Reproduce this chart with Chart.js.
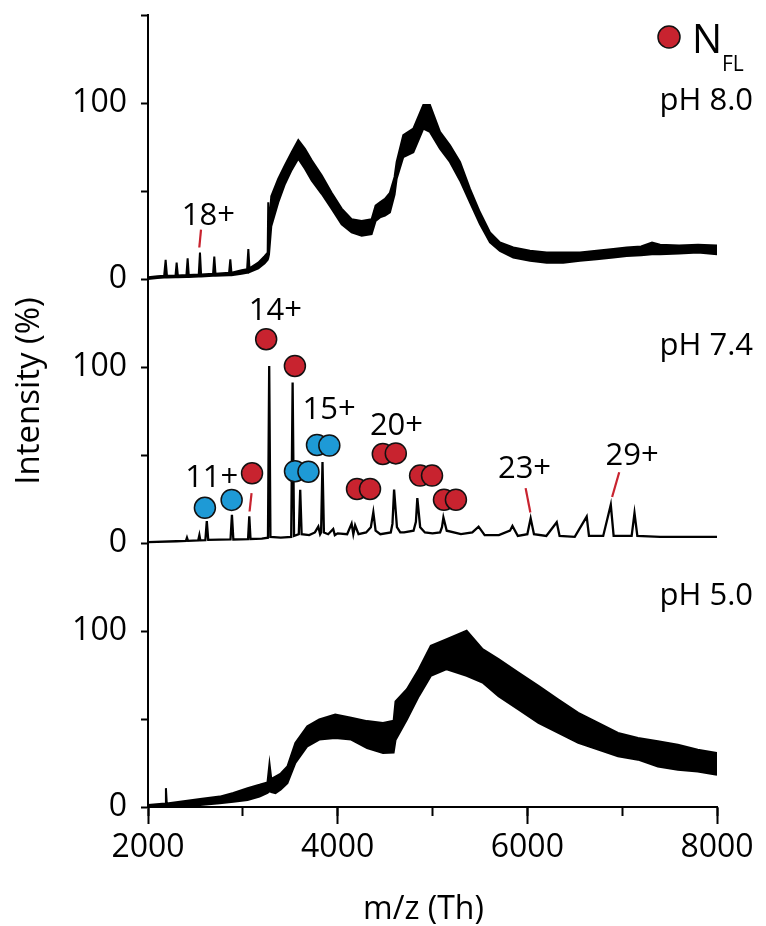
<!DOCTYPE html>
<html>
<head>
<meta charset="utf-8">
<script src="https://cdn.jsdelivr.net/npm/chart.js@4.4.1/dist/chart.umd.min.js"></script>
<style>
  html, body { margin: 0; padding: 0; background: #fff; }
</style>
</head>
<body>
<canvas id="myChart" width="766" height="926"></canvas>
<script>
// pH 8.0 : noisy band, upper and lower edge (% intensity)
const mz80 = [2000,2100,2170,2186,2200,2290,2302,2315,2405,2418,2430,2535,2548,2560,2686,2699,2712,2855,2868,2880,2987,3045,3058,3070,3163,3230,3262,3268,3276,3300,3374,3444,3515,3585,3655,3726,3831,3936,4042,4147,4253,4358,4400,4446,4499,4551,4600,4622,4692,4798,4903,4973,5079,5184,5290,5395,5500,5606,5711,5852,6028,6204,6379,6555,6731,6907,7047,7200,7315,7400,7600,7800,8000];
const up80 = [1.0,1.5,1.8,10.9,1.9,2.0,9.3,2.0,2.3,11.8,2.3,2.6,15.0,2.6,3.0,12.8,3.0,3.6,11.2,3.6,5.0,5.5,17.0,6.0,9.3,13.0,15.0,43.6,30.0,47.0,57.0,64.6,72.0,78.9,74.0,67.4,58.9,49.0,40.0,34.0,33.0,34.0,41.7,43.6,45.5,49.0,58.0,66.5,81.7,85.5,98.9,98.9,83.6,76.0,66.5,51.2,37.9,26.5,20.8,17.9,16.0,15.0,15.0,15.0,16.0,17.0,17.9,18.5,20.7,19.5,19.0,19.5,19.0];
const lo80 = [0.0,0.5,0.8,0.8,0.9,1.0,1.0,1.0,1.2,1.2,1.2,1.4,1.4,1.4,1.8,1.8,1.8,2.2,2.2,2.2,3.0,3.5,3.5,4.0,6.0,9.0,11.0,12.0,14.0,30.0,43.6,54.0,62.0,68.4,62.7,56.0,48.4,40.0,31.0,26.5,24.6,25.5,33.0,35.0,36.0,37.9,48.0,57.0,69.3,72.0,85.5,83.6,74.0,66.5,56.0,43.6,31.2,20.8,16.0,12.2,10.3,9.3,9.3,10.3,11.2,12.2,13.1,13.5,14.0,14.0,14.5,15.0,14.0];

// pH 7.4 : sharp peaks
const mz74 = [2000,2300,2400,2411,2422,2530,2542,2552,2605,2620,2635,2870,2885,2900,3055,3068,3081,3200,3265,3278,3291,3400,3510,3525,3540,3590,3605,3620,3700,3760,3796,3815,3825,3840,3855,3900,3953,3970,4000,4100,4147,4165,4184,4220,4300,4350,4376,4400,4450,4560,4578,4595,4625,4660,4700,4800,4825,4840,4870,4920,5000,5080,5100,5115,5150,5300,5420,5486,5550,5700,5817,5843,5900,6000,6035,6070,6200,6310,6340,6500,6626,6650,6800,6880,6910,7100,7130,7160,7400,7700,8000];
const int74 = [0.5,1.0,1.2,3.0,1.2,1.5,4.5,1.5,1.6,12.5,1.8,2.0,16.0,2.0,2.2,15.2,2.3,2.5,3.0,100.5,3.5,3.0,3.5,91.2,4.0,5.0,30.3,5.0,4.5,6.0,9.3,5.0,6.0,46.0,6.0,5.0,8.0,4.5,5.5,5.0,11.0,5.0,10.0,5.0,6.0,9.0,17.5,7.0,5.0,6.0,11.0,30.3,9.0,6.0,6.0,7.0,12.0,25.5,9.0,6.0,5.5,6.0,9.0,14.5,7.0,5.0,6.0,9.3,4.5,4.5,7.0,9.7,4.0,5.0,14.0,5.0,4.0,11.8,4.0,3.5,15.0,4.0,4.0,21.7,4.0,4.0,17.0,4.0,3.5,3.5,3.5];

// pH 5.0 : noisy band
const mz50 = [2000,2180,2189,2198,2336,2550,2756,2900,3050,3176,3260,3281,3300,3344,3400,3470,3554,3680,3806,3974,4142,4310,4478,4590,4610,4730,4856,4982,5150,5360,5528,5696,5906,6117,6327,6537,6747,6956,7167,7377,7587,7797,8000];
const up50 = [1.1,2.0,10.7,2.0,3.0,4.5,5.9,8.0,10.7,12.6,14.0,24.6,16.0,17.3,19.0,23.0,36.4,45.9,49.7,52.6,50.7,48.8,47.8,49.0,60.0,66.9,78.3,91.6,95.4,100.2,89.7,84.0,76.4,68.8,61.1,53.5,47.8,42.1,39.2,37.3,35.4,32.6,30.7];
const lo50 = [0.2,0.4,0.4,0.5,0.6,1.2,2.1,3.0,4.0,5.9,8.0,9.0,8.5,7.8,10.0,13.5,25.0,34.5,38.3,39.2,38.3,33.5,30.7,31.0,38.0,49.7,63.0,74.5,78.3,74.5,70.7,63.0,55.4,47.8,42.1,36.4,32.6,28.8,26.9,23.0,21.1,20.2,18.3];

// circle markers on the pH 7.4 trace
const blueMz = [2600,2882,3550,3692,3782,3912];
const blueInt = [20.0,24.5,40.8,40.5,55.7,55.4];
const redMz = [3097,3246,3549,4204,4341,4476,4613,4869,4995,5121,5247];
const redInt = [39.6,115.8,100.6,30.7,30.7,50.6,50.9,38.3,38.3,24.6,24.6];

// small red guide lines under charge labels
const guideMz = [[2559,2541],[3092,3071],[5982,6032],[6969,6894]];
const guideInt = [[28.0,17.9],[28.4,17.9],[31.2,17.3],[40.2,26.1]];
const guidePanel = [0,1,1,1];

// charge state labels (text baseline, in panel %)
const chargeText = ['18+','14+','11+','15+','20+','23+','29+'];
const chargeMz = [2637,3344,2672,3910,4620,5970,7104];
const chargeInt = [30.7,126.7,31.8,70.5,61.4,37.0,44.3];
const chargePanel = [0,1,1,1,1,1,1];

const phText = ['pH 8.0','pH 7.4','pH 5.0'];
const phInt = [96.0,106.8,114.8];

// panel offsets on the stacked y axis (top, middle, bottom)
const panelOffset = [300, 150, 0];
const xTicks = [2000, 4000, 6000, 8000];

const RED = '#c8232f';
const BLUE = '#1e9ad6';
const FONT = "'Open Sans', sans-serif";

function pts(xs, ys, off) {
  return xs.map((x, i) => ({ x: x, y: ys[i] + off }));
}

const lineBase = {
  type: 'line',
  borderColor: '#000',
  borderWidth: 2,
  pointRadius: 0,
  tension: 0,
  xAxisID: 'x',
  yAxisID: 'y',
  order: 3,
};

const datasets = [
  { ...lineBase, data: pts(mz80, up80, panelOffset[0]), fill: '+1', backgroundColor: '#000' },
  { ...lineBase, data: pts(mz80, lo80, panelOffset[0]), fill: false },
  { ...lineBase, data: pts(mz74, int74, panelOffset[1]), fill: false, borderWidth: 2.3 },
  { ...lineBase, data: pts(mz50, up50, panelOffset[2]), fill: '+1', backgroundColor: '#000' },
  { ...lineBase, data: pts(mz50, lo50, panelOffset[2]), fill: false },
];

guideMz.forEach((xs, i) => {
  datasets.push({
    ...lineBase,
    data: pts(xs, guideInt[i], panelOffset[guidePanel[i]]),
    borderColor: RED,
    borderWidth: 2.2,
    fill: false,
    order: 2,
  });
});

datasets.push({
  type: 'scatter',
  data: pts(blueMz, blueInt, panelOffset[1]),
  pointRadius: 10.5,
  pointHoverRadius: 10.5,
  pointBackgroundColor: BLUE,
  pointBorderColor: '#111',
  pointBorderWidth: 1.5,
  xAxisID: 'x',
  yAxisID: 'y',
  order: 1,
});
datasets.push({
  type: 'scatter',
  data: pts(redMz, redInt, panelOffset[1]),
  pointRadius: 10.5,
  pointHoverRadius: 10.5,
  pointBackgroundColor: RED,
  pointBorderColor: '#111',
  pointBorderWidth: 1.5,
  xAxisID: 'x',
  yAxisID: 'y',
  order: 1,
});

// text labels, axis titles and legend
const textPlugin = {
  id: 'texts',
  afterDatasetsDraw(chart) {
    const ctx = chart.ctx;
    const xs = chart.scales.x;
    const ys = chart.scales.y;
    const area = chart.chartArea;
    ctx.save();
    ctx.fillStyle = '#000';
    ctx.textBaseline = 'alphabetic';

    ctx.font = '31px ' + FONT;
    ctx.textAlign = 'center';
    chargeText.forEach((t, i) => {
      ctx.fillText(t, xs.getPixelForValue(chargeMz[i]),
        ys.getPixelForValue(chargeInt[i] + panelOffset[chargePanel[i]]));
    });

    ctx.textAlign = 'right';
    phText.forEach((t, i) => {
      ctx.fillText(t, area.right + 36, ys.getPixelForValue(phInt[i] + panelOffset[i]));
    });

    // axis titles
    ctx.font = '32px ' + FONT;
    ctx.textAlign = 'center';
    ctx.fillText('m/z (Th)', (area.left + area.right) / 2 - 9, area.bottom + 112);
    ctx.save();
    ctx.translate(39, (area.top + area.bottom) / 2 - 20);
    ctx.rotate(-Math.PI / 2);
    ctx.font = '33px ' + FONT;
    ctx.fillText('Intensity (%)', 0, 0);
    ctx.restore();

    // legend: red circle + N_FL
    ctx.beginPath();
    ctx.arc(area.right - 48, area.top + 22, 11, 0, Math.PI * 2);
    ctx.fillStyle = RED;
    ctx.fill();
    ctx.lineWidth = 1.5;
    ctx.strokeStyle = '#111';
    ctx.stroke();
    ctx.fillStyle = '#000';
    ctx.textAlign = 'left';
    ctx.font = '40px ' + FONT;
    ctx.fillText('N', area.right - 25, area.top + 38);
    ctx.font = '21px ' + FONT;
    ctx.fillText('FL', area.right + 5, area.top + 56);
    ctx.restore();
  },
};

const ctx = document.getElementById('myChart').getContext('2d');
const myChart = new Chart(ctx, {
  type: 'line',
  data: { datasets: datasets },
  options: {
    responsive: false,
    animation: false,
    events: [],
    layout: { padding: { left: 0, right: 49, top: 15, bottom: 0 } },
    plugins: { legend: { display: false }, tooltip: { enabled: false } },
    scales: {
      x: {
        type: 'linear',
        position: 'bottom',
        min: 2000,
        max: 8000,
        afterBuildTicks: (s) => { s.ticks = xTicks.map((v) => ({ value: v })); },
        afterFit: (s) => { s.height = 119; s.paddingLeft = 0; s.paddingRight = 0; },
        ticks: {
          color: '#000',
          font: { family: FONT, size: 32 },
          padding: 5,
          maxRotation: 0,
          callback: (v) => String(v),
        },
        grid: { drawOnChartArea: false, drawTicks: true, tickLength: 17, tickWidth: 2, color: '#000' },
        border: { display: true, color: '#000', width: 2 },
      },
      x2: {
        type: 'linear',
        position: { y: 0 },
        min: 2000,
        max: 8000,
        ticks: { display: false, stepSize: 1000 },
        grid: { drawOnChartArea: false, drawTicks: true, tickLength: 9, tickWidth: 2, color: '#000' },
        border: { display: false },
      },
      y: {
        type: 'linear',
        position: 'left',
        min: 0,
        max: 450,
        afterFit: (s) => { s.width = 148; s.paddingTop = 0; s.paddingBottom = 0; },
        ticks: {
          stepSize: 50,
          color: '#000',
          font: { family: FONT, size: 32 },
          padding: 14,
          callback: (v) => {
            if (v === 450) return '';
            if (v % 150 === 0) return '0';
            if (v % 150 === 100) return '100';
            return '';
          },
        },
        grid: { drawOnChartArea: false, drawTicks: true, tickLength: 7, tickWidth: 2, color: '#000' },
        border: { display: true, color: '#000', width: 2 },
      },
    },
  },
  plugins: [textPlugin],
});
</script>
</body>
</html>
